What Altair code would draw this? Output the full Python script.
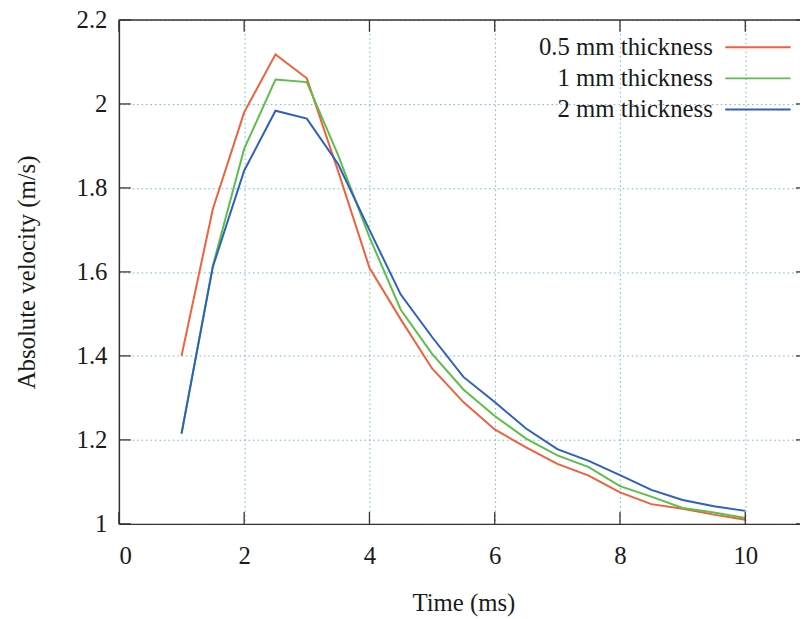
import altair as alt
import pandas as pd

# ---------------- data ----------------
TIME = [1, 1.5, 2, 2.5, 3, 3.5, 4, 4.5, 5, 5.5, 6, 6.5, 7, 7.5, 8, 8.5, 9, 9.5, 10]
V_05MM = [1.40, 1.75, 1.98, 2.118, 2.061, 1.84, 1.61, 1.487, 1.37, 1.29, 1.225,
          1.182, 1.143, 1.115, 1.075, 1.047, 1.036, 1.022, 1.010]
V_1MM = [1.215, 1.615, 1.893, 2.058, 2.052, 1.878, 1.683, 1.51, 1.405, 1.32, 1.257,
         1.203, 1.163, 1.135, 1.09, 1.065, 1.038, 1.027, 1.014]
V_2MM = [1.215, 1.612, 1.841, 1.984, 1.965, 1.857, 1.70, 1.546, 1.445, 1.35, 1.29,
         1.227, 1.178, 1.150, 1.116, 1.081, 1.057, 1.042, 1.031]
SERIES = ["0.5 mm thickness", "1 mm thickness", "2 mm thickness"]
COLORS = ["#f0603c", "#5cbf4a", "#2d5fbf"]
X_TICKS = [0, 2, 4, 6, 8, 10]
Y_TICKS = [1.0, 1.2, 1.4, 1.6, 1.8, 2.0, 2.2]

rows = []
for name, vals in zip(SERIES, [V_05MM, V_1MM, V_2MM]):
    for t, v in zip(TIME, vals):
        rows.append({"t": t, "v": v, "series": name})
df = pd.DataFrame(rows)
xt = pd.DataFrame({"t": X_TICKS})
yt = pd.DataFrame({"v": Y_TICKS})
one = pd.DataFrame({"a": [0]})

FONT = "'Liberation Serif', 'Times New Roman', Times, serif"
TEXT = "#1a1a1a"
FRAME = "#3a3030"
W, H = 688, 509
XR = 696  # pixel extent of x domain 0..11 (right part falls outside the window)
TL = 12   # inward tick length

xscale = alt.Scale(domain=[0, 11], range=[0, XR], nice=False, zero=False)
yscale = alt.Scale(domain=[1, 2.2], nice=False, zero=False)

xaxis = alt.Axis(values=X_TICKS, title="Time (ms)", format="~g", ticks=False, tickSize=0,
                 labelPadding=20, labelFontSize=25, titleFontSize=25,
                 titleY=87, titleBaseline="alphabetic")
yaxis = alt.Axis(values=Y_TICKS, title="Absolute velocity (m/s)", format="~g", ticks=False,
                 tickSize=0, labelPadding=12, labelFontSize=25, titleFontSize=25,
                 titleX=-85, titleBaseline="alphabetic")

lines = alt.Chart(df).mark_line(strokeWidth=2).encode(
    x=alt.X("t:Q", scale=xscale, axis=xaxis, title="Time (ms)"),
    y=alt.Y("v:Q", scale=yscale, axis=yaxis, title="Absolute velocity (m/s)"),
    color=alt.Color(
        "series:N",
        scale=alt.Scale(domain=SERIES, range=COLORS),
        sort=SERIES,
        legend=alt.Legend(
            title=None, orient="none", legendX=633, legendY=15, direction="vertical",
            symbolType="M-3,0H3", symbolSize=22 * 22, symbolStrokeWidth=2,
            labelAlign="right", labelOffset={"expr": "-58"}, labelBaseline="middle",
            labelFont=FONT, labelFontSize=25, labelColor=TEXT, labelLimit=400,
            rowPadding=5.5, padding=0,
        ),
    ),
)

rule = dict(color=FRAME, strokeWidth=1.3)
bottom_ticks = alt.Chart(xt).mark_rule(**rule).encode(
    x=alt.X("t:Q", scale=xscale, title="Time (ms)"), y=alt.value(H), y2=alt.value(H - TL))
top_ticks = alt.Chart(xt).mark_rule(**rule).encode(
    x=alt.X("t:Q", scale=xscale, title="Time (ms)"), y=alt.value(0), y2=alt.value(TL))
left_ticks = alt.Chart(yt).mark_rule(**rule).encode(
    y=alt.Y("v:Q", scale=yscale, title="Absolute velocity (m/s)"), x=alt.value(0), x2=alt.value(TL))
right_ticks = alt.Chart(yt).mark_rule(**rule).encode(
    y=alt.Y("v:Q", scale=yscale, title="Absolute velocity (m/s)"), x=alt.value(XR), x2=alt.value(XR - TL))
top_frame = alt.Chart(one).mark_rule(color=FRAME, strokeWidth=1.5).encode(
    x=alt.value(0), x2=alt.value(XR), y=alt.value(0))

chart = alt.layer(
    lines, bottom_ticks, top_ticks, left_ticks, right_ticks, top_frame
).properties(
    width=W, height=H,
    autosize=alt.AutoSizeParams(type="none"),
    padding={"left": 112, "top": 9, "right": 0, "bottom": 93},
    background="white",
).configure_view(
    stroke=None
).configure_axis(
    labelFont=FONT, titleFont=FONT, labelColor=TEXT, titleColor=TEXT,
    titleFontWeight="normal", domainColor=FRAME, domainWidth=1.5,
    grid=True, gridColor="#5aaad8", gridDash=[1.5, 3], gridWidth=1, gridOpacity=0.9,
)

chart.save("out.html", embed_options={"renderer": "svg", "actions": False})
